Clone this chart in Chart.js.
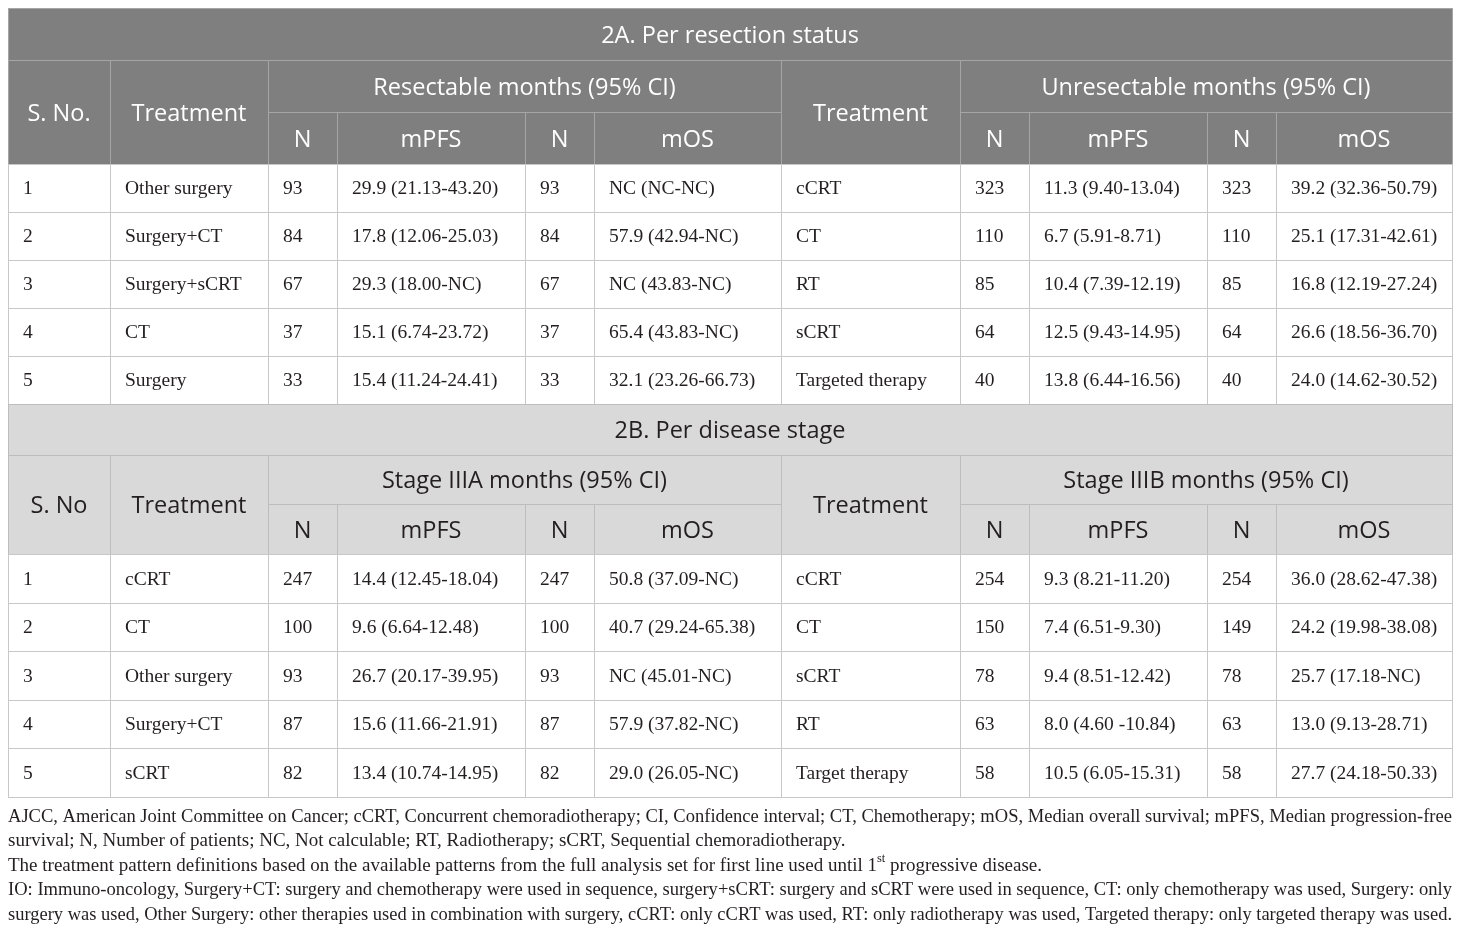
<!DOCTYPE html>
<html lang="en">
<head>
  <meta charset="UTF-8">
  <title>Treatment patterns - mPFS / mOS</title>
  <script src="https://cdn.jsdelivr.net/npm/chart.js"></script>
  <style>
    body {
      margin: 0;
      padding: 0;
      background-color: #ffffff;
    }
    #tableChart {
      display: block;
    }
  </style>
</head>
<body>
  <canvas id="tableChart" width="1460" height="932"></canvas>

  <script>
    // ---- 2A. Per resection status ----
    const serialNo = ["1", "2", "3", "4", "5"];

    const resectTreatment = ["Other surgery", "Surgery+CT", "Surgery+sCRT", "CT", "Surgery"];
    const resectNpfs = ["93", "84", "67", "37", "33"];
    const resectMpfs = ["29.9 (21.13-43.20)", "17.8 (12.06-25.03)", "29.3 (18.00-NC)", "15.1 (6.74-23.72)", "15.4 (11.24-24.41)"];
    const resectNos = ["93", "84", "67", "37", "33"];
    const resectMos = ["NC (NC-NC)", "57.9 (42.94-NC)", "NC (43.83-NC)", "65.4 (43.83-NC)", "32.1 (23.26-66.73)"];

    const unresectTreatment = ["cCRT", "CT", "RT", "sCRT", "Targeted therapy"];
    const unresectNpfs = ["323", "110", "85", "64", "40"];
    const unresectMpfs = ["11.3 (9.40-13.04)", "6.7 (5.91-8.71)", "10.4 (7.39-12.19)", "12.5 (9.43-14.95)", "13.8 (6.44-16.56)"];
    const unresectNos = ["323", "110", "85", "64", "40"];
    const unresectMos = ["39.2 (32.36-50.79)", "25.1 (17.31-42.61)", "16.8 (12.19-27.24)", "26.6 (18.56-36.70)", "24.0 (14.62-30.52)"];

    // ---- 2B. Per disease stage ----
    const stageATreatment = ["cCRT", "CT", "Other surgery", "Surgery+CT", "sCRT"];
    const stageANpfs = ["247", "100", "93", "87", "82"];
    const stageAMpfs = ["14.4 (12.45-18.04)", "9.6 (6.64-12.48)", "26.7 (20.17-39.95)", "15.6 (11.66-21.91)", "13.4 (10.74-14.95)"];
    const stageANos = ["247", "100", "93", "87", "82"];
    const stageAMos = ["50.8 (37.09-NC)", "40.7 (29.24-65.38)", "NC (45.01-NC)", "57.9 (37.82-NC)", "29.0 (26.05-NC)"];

    const stageBTreatment = ["cCRT", "CT", "sCRT", "RT", "Target therapy"];
    const stageBNpfs = ["254", "150", "78", "63", "58"];
    const stageBMpfs = ["9.3 (8.21-11.20)", "7.4 (6.51-9.30)", "9.4 (8.51-12.42)", "8.0 (4.60 -10.84)", "10.5 (6.05-15.31)"];
    const stageBNos = ["254", "149", "78", "63", "58"];
    const stageBMos = ["36.0 (28.62-47.38)", "24.2 (19.98-38.08)", "25.7 (17.18-NC)", "13.0 (9.13-28.71)", "27.7 (24.18-50.33)"];

    // header texts
    const titleA = "2A. Per resection status";
    const groupsA = ["Resectable months (95% CI)", "Unresectable months (95% CI)"];
    const titleB = "2B. Per disease stage";
    const groupsB = ["Stage IIIA months (95% CI)", "Stage IIIB months (95% CI)"];
    const subHeads = ["N", "mPFS", "N", "mOS"];

    const footLines = [
      "AJCC, American Joint Committee on Cancer; cCRT, Concurrent chemoradiotherapy; CI, Confidence interval; CT, Chemotherapy; mOS, Median overall survival; mPFS, Median progression-free",
      "survival; N, Number of patients; NC, Not calculable; RT, Radiotherapy; sCRT, Sequential chemoradiotherapy.",
      "The treatment pattern definitions based on the available patterns from the full analysis set for first line used until 1^st^ progressive disease.",
      "IO: Immuno-oncology, Surgery+CT: surgery and chemotherapy were used in sequence, surgery+sCRT: surgery and sCRT were used in sequence, CT: only chemotherapy was used, Surgery: only",
      "surgery was used, Other Surgery: other therapies used in combination with surgery, cCRT: only cCRT was used, RT: only radiotherapy was used, Targeted therapy: only targeted therapy was used."
    ];
    const footJustify = [true, false, false, true, true];

    // ---- layout (scale units = page pixels) ----
    const colEdges = [8, 110, 268, 337, 525, 594, 781, 960, 1029, 1207, 1276, 1452];
    const rowEdgesA = [8, 60, 112, 164, 212, 260, 308, 356, 404];
    const rowEdgesB = [404, 455, 504, 554, 603, 651, 700, 748, 797];
    const footTop = 817, footStep = 24.5;

    const headFont = "23.5px 'Open Sans', 'Noto Sans', sans-serif";
    const bodyFont = "19.5px 'Liberation Serif', 'DejaVu Serif', serif";
    const footFont = "19px 'Liberation Serif', 'DejaVu Serif', serif";
    const supFont = "12.5px 'Liberation Serif', 'DejaVu Serif', serif";

    // build one set of cells per section
    function buildSection(rows, title, sNoLabel, groups, left, right, theme) {
      const cells = [];
      cells.push({ c0: 0, c1: 11, r0: 0, r1: 1, text: title, head: true });
      cells.push({ c0: 0, c1: 1, r0: 1, r1: 3, text: sNoLabel, head: true });
      cells.push({ c0: 1, c1: 2, r0: 1, r1: 3, text: "Treatment", head: true });
      cells.push({ c0: 2, c1: 6, r0: 1, r1: 2, text: groups[0], head: true });
      cells.push({ c0: 6, c1: 7, r0: 1, r1: 3, text: "Treatment", head: true });
      cells.push({ c0: 7, c1: 11, r0: 1, r1: 2, text: groups[1], head: true });
      subHeads.forEach((s, i) => {
        cells.push({ c0: 2 + i, c1: 3 + i, r0: 2, r1: 3, text: s, head: true });
        cells.push({ c0: 7 + i, c1: 8 + i, r0: 2, r1: 3, text: s, head: true });
      });
      const cols = [serialNo, left[0], left[1], left[2], left[3], left[4], right[0], right[1], right[2], right[3], right[4]];
      for (let r = 0; r < serialNo.length; r++) {
        cols.forEach((col, c) => {
          cells.push({ c0: c, c1: c + 1, r0: 3 + r, r1: 4 + r, text: col[r], head: false });
        });
      }
      return cells.map(cell => Object.assign(cell, {
        x: (colEdges[cell.c0] + colEdges[cell.c1]) / 2,
        y: (rows[cell.r0] + rows[cell.r1]) / 2,
        rows: rows,
        theme: theme
      }));
    }

    const themeA = { headBg: "#7f7f7f", headText: "#ffffff", headLine: "#a5a5a5" };
    const themeB = { headBg: "#d9d9d9", headText: "#231f20", headLine: "#bdbdbd" };

    const cellsA = buildSection(rowEdgesA, titleA, "S. No.", groupsA,
      [resectTreatment, resectNpfs, resectMpfs, resectNos, resectMos],
      [unresectTreatment, unresectNpfs, unresectMpfs, unresectNos, unresectMos], themeA);
    const cellsB = buildSection(rowEdgesB, titleB, "S. No", groupsB,
      [stageATreatment, stageANpfs, stageAMpfs, stageANos, stageAMos],
      [stageBTreatment, stageBNpfs, stageBMpfs, stageBNos, stageBMos], themeB);

    // cell grid: backgrounds + borders, drawn through the chart scales
    const gridPlugin = {
      id: 'tableGrid',
      beforeDatasetsDraw(chart) {
        const { ctx, scales: { x, y } } = chart;
        ctx.save();
        chart.data.datasets.forEach(ds => {
          ds.data.forEach(cell => {
            const px0 = x.getPixelForValue(colEdges[cell.c0]);
            const px1 = x.getPixelForValue(colEdges[cell.c1]);
            const py0 = y.getPixelForValue(cell.rows[cell.r0]);
            const py1 = y.getPixelForValue(cell.rows[cell.r1]);
            ctx.fillStyle = cell.head ? cell.theme.headBg : "#ffffff";
            ctx.fillRect(px0, py0, px1 - px0, py1 - py0);
          });
        });
        chart.data.datasets.forEach(ds => {
          ds.data.forEach(cell => {
            const px0 = x.getPixelForValue(colEdges[cell.c0]);
            const px1 = x.getPixelForValue(colEdges[cell.c1]);
            const py0 = y.getPixelForValue(cell.rows[cell.r0]);
            const py1 = y.getPixelForValue(cell.rows[cell.r1]);
            ctx.strokeStyle = cell.head ? cell.theme.headLine : "#c8c8c8";
            ctx.lineWidth = 1;
            ctx.strokeRect(Math.round(px0) + 0.5, Math.round(py0) + 0.5,
              Math.round(px1 - px0), Math.round(py1 - py0));
          });
        });
        ctx.restore();
      },
      afterDatasetsDraw(chart) {
        const { ctx, scales: { x } } = chart;
        ctx.save();
        ctx.textBaseline = 'middle';
        chart.data.datasets.forEach((ds, di) => {
          const meta = chart.getDatasetMeta(di);
          ds.data.forEach((cell, i) => {
            const pt = meta.data[i];
            if (cell.head) {
              ctx.font = headFont;
              ctx.fillStyle = cell.theme.headText;
              ctx.textAlign = 'center';
              ctx.fillText(cell.text, pt.x, pt.y + 2);
            } else {
              ctx.font = bodyFont;
              ctx.fillStyle = "#231f20";
              ctx.textAlign = 'left';
              ctx.fillText(cell.text, x.getPixelForValue(colEdges[cell.c0]) + 15, pt.y + 1);
            }
          });
        });
        // footnotes
        ctx.font = footFont;
        ctx.fillStyle = "#231f20";
        ctx.textAlign = 'left';
        const fx0 = x.getPixelForValue(colEdges[0]);
        const fx1 = x.getPixelForValue(colEdges[colEdges.length - 1]);
        const yS = chart.scales.y;
        footLines.forEach((line, li) => {
          const py = yS.getPixelForValue(footTop + li * footStep);
          if (line.indexOf('^') >= 0) {
            const parts = line.split('^');
            let cx = fx0;
            parts.forEach((part, pi) => {
              if (pi % 2 === 1) {
                ctx.font = supFont;
                ctx.fillText(part, cx, py - 7);
                cx += ctx.measureText(part).width;
                ctx.font = footFont;
              } else {
                ctx.fillText(part, cx, py);
                cx += ctx.measureText(part).width;
              }
            });
            return;
          }
          const words = line.split(' ');
          const widths = words.map(w => ctx.measureText(w).width);
          const total = widths.reduce((a, b) => a + b, 0);
          const natural = ctx.measureText(line).width;
          if (!footJustify[li] || natural >= fx1 - fx0) {
            // too long or not justified: squeeze to fit if needed
            const scaleX = Math.min(1, (fx1 - fx0) / natural);
            ctx.save();
            ctx.translate(fx0, py);
            ctx.scale(scaleX, 1);
            ctx.fillText(line, 0, 0);
            ctx.restore();
            return;
          }
          const gap = (fx1 - fx0 - total) / (words.length - 1);
          let cx = fx0;
          words.forEach((w, wi) => {
            ctx.fillText(w, cx, py);
            cx += widths[wi] + gap;
          });
        });
        ctx.restore();
      }
    };

    new Chart(document.getElementById('tableChart'), {
      type: 'scatter',
      data: {
        datasets: [
          { label: '2A', data: cellsA, pointRadius: 0, pointHoverRadius: 0 },
          { label: '2B', data: cellsB, pointRadius: 0, pointHoverRadius: 0 }
        ]
      },
      options: {
        responsive: false,
        animation: false,
        devicePixelRatio: 1,
        layout: { padding: 0 },
        events: [],
        plugins: {
          legend: { display: false },
          tooltip: { enabled: false }
        },
        scales: {
          x: { type: 'linear', min: 0, max: 1460, display: false },
          y: { type: 'linear', min: 0, max: 932, reverse: true, display: false }
        }
      },
      plugins: [gridPlugin]
    });
  </script>
</body>
</html>
